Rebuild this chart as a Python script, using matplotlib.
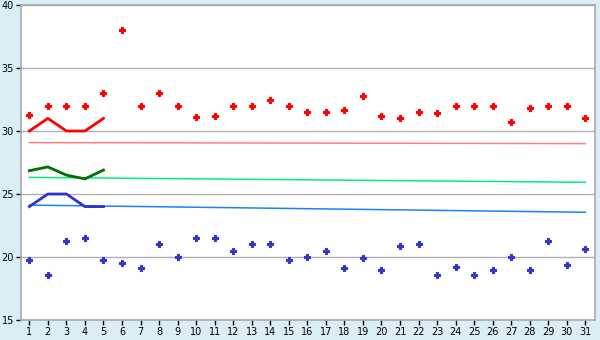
import numpy as np
import matplotlib.pyplot as plt

days = np.arange(1, 32)

# daily highs (red) and lows (blue)
high = [31.3, 32.0, 32.0, 32.0, 33.0, 38.0, 32.0, 33.0, 32.0, 31.1,
        31.2, 32.0, 32.0, 32.5, 32.0, 31.5, 31.5, 31.7, 32.75, 31.2,
        31.0, 31.5, 31.4, 32.0, 32.0, 32.0, 30.7, 31.8, 32.0, 32.0, 31.0]
low = [19.75, 18.6, 21.25, 21.5, 19.8, 19.5, 19.1, 21.0, 20.0, 21.5,
       21.5, 20.5, 21.0, 21.0, 19.8, 20.0, 20.5, 19.1, 19.9, 19.0,
       20.85, 21.0, 18.55, 19.2, 18.55, 19.0, 20.0, 19.0, 21.3, 19.4, 20.6]

# first five days, thick lines
recent_days = [1, 2, 3, 4, 5]
recent_high = [30, 31, 30, 30, 31]
recent_mean = [26.85, 27.15, 26.5, 26.2, 26.9]
recent_low = [24, 25, 25, 24, 24]

# long-term normals (thin lines)
norm_high = np.linspace(29.08, 29.0, 31)
norm_mean = np.linspace(26.32, 25.93, 31)
norm_low = np.linspace(24.12, 23.55, 31)

fig = plt.figure(figsize=(6, 3.4), dpi=100)
fig.patch.set_facecolor('#d9eff5')
ax = fig.add_axes([21 / 600, 20 / 340, 574 / 600, 315 / 340])
ax.set_facecolor('white')

ax.plot(days, norm_high, color='#ff8080', lw=1.1)
ax.plot(days, norm_mean, color='#00f080', lw=1.1)
ax.plot(days, norm_low, color='#1a80ff', lw=1.1)

ax.plot(recent_days, recent_high, color='#ff0000', lw=2)
ax.plot(recent_days, recent_mean, color='#007000', lw=2)
ax.plot(recent_days, recent_low, color='#3333cc', lw=2)

ax.plot(days, high, 'P', color='#ff0000', ms=4.0, mew=0.8, ls='none')
ax.plot(days, low, 'P', color='#3535c8', ms=4.0, mew=0.8, ls='none')

ax.set_xlim(0.55, 31.52)
ax.set_ylim(15, 40)
ax.set_xticks(days)
ax.set_yticks([15, 20, 25, 30, 35, 40])
ax.grid(axis='y', color='#b0b0b0', lw=1)
ax.set_axisbelow(True)
for s in ax.spines.values():
    s.set_color('#aaaaaa')
    s.set_linewidth(1.2)
ax.tick_params(axis='both', length=3.5, width=1, color='black', labelsize=7, pad=1.5)

fig.savefig('out.png', dpi=100, facecolor=fig.get_facecolor())
